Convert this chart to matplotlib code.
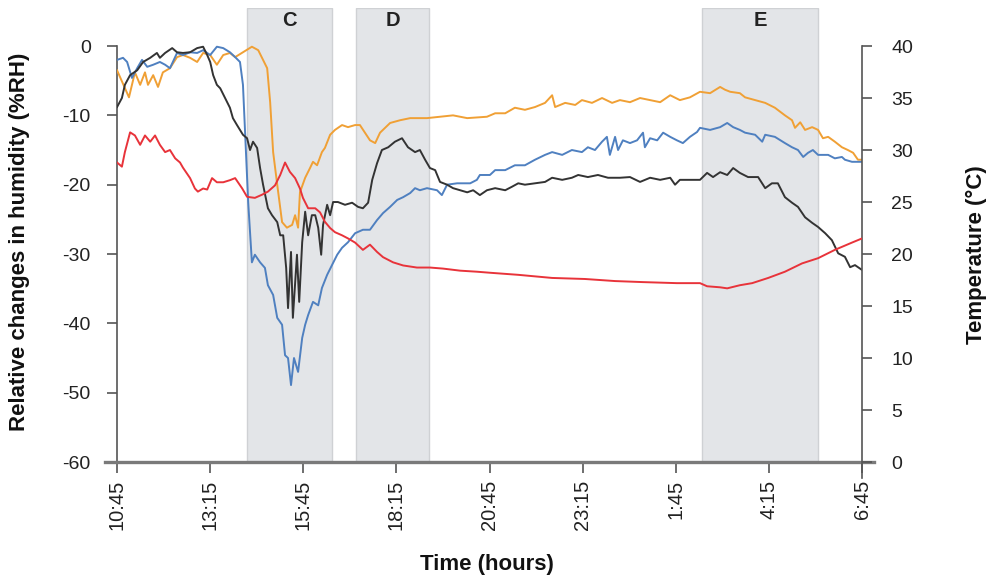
import matplotlib
matplotlib.use("Agg")
import matplotlib.pyplot as plt

plt.rcParams['font.family'] = ['Liberation Sans', 'DejaVu Sans']

# hours elapsed since 10:45
tick_hours = [0, 2.5, 5, 7.5, 10, 12.5, 15, 17.5, 20]
tick_labels = ['10:45', '13:15', '15:45', '18:15', '20:45', '23:15', '1:45', '4:15', '6:45']

# shaded periods (start, end, label)
periods = [(3.49, 5.77, 'C'), (6.42, 8.38, 'D'), (15.70, 18.82, 'E')]

# relative humidity change, orange sensor
orange_t = [0.00, 0.32, 0.48, 0.62, 0.75, 0.83, 0.97, 1.10, 1.23, 1.42, 1.61, 1.77, 1.96, 2.15,
            2.31, 2.50, 2.68, 2.85, 3.03, 3.17, 3.62, 3.79, 4.03, 4.11, 4.19, 4.30, 4.43, 4.56,
            4.70, 4.78, 4.86, 4.91, 5.05, 5.18, 5.26, 5.37, 5.50, 5.58, 5.72, 5.85, 6.04, 6.20,
            6.39, 6.52, 6.79, 6.93, 7.06, 7.33, 7.60, 7.87, 8.32, 8.67, 9.02, 9.40, 9.93, 10.15,
            10.42, 10.68, 10.95, 11.22, 11.49, 11.68, 11.76, 12.03, 12.30, 12.48, 12.75, 13.02,
            13.29, 13.50, 13.77, 14.04, 14.31, 14.58, 14.85, 15.11, 15.38, 15.65, 15.92, 16.19,
            16.32, 16.46, 16.72, 16.86, 17.13, 17.40, 17.66, 17.93, 18.12, 18.20, 18.34, 18.47,
            18.66, 18.82, 18.95, 19.09, 19.27, 19.46, 19.62, 19.76, 19.89, 20.00]
orange_rh = [-3.5, -7.4, -3.8, -5.6, -3.8, -5.6, -4.2, -5.9, -3.8, -3.2, -1.6, -1.3, -1.7, -2.3,
             -1.0, -1.3, -2.7, -1.3, -1.0, -1.6, -0.1, -0.6, -3.2, -8.1, -15.3, -20.0, -25.4, -26.2,
             -25.8, -24.4, -26.2, -21.1, -19.0, -17.6, -16.7, -17.2, -15.3, -14.7, -12.8, -12.1, -11.4, -11.7,
             -11.4, -11.4, -13.6, -14.0, -12.5, -11.1, -10.7, -10.4, -10.4, -10.2, -10.0, -10.4, -10.2, -9.7,
             -9.7, -8.9, -9.2, -8.8, -8.2, -7.1, -8.8, -8.2, -8.5, -7.8, -8.2, -7.5,
             -8.2, -7.8, -8.1, -7.5, -7.8, -8.1, -7.1, -7.8, -7.4, -6.6, -6.8, -5.9,
             -6.3, -6.6, -6.8, -7.4, -7.8, -8.2, -8.9, -10.0, -10.7, -11.8, -11.0, -12.1,
             -11.7, -12.1, -13.3, -13.1, -13.8, -14.6, -15.0, -15.4, -16.4, -16.4]

# relative humidity change, blue sensor
blue_t = [0.00, 0.16, 0.27, 0.40, 0.54, 0.67, 0.81, 0.97, 1.15, 1.29, 1.42, 1.61, 1.77, 1.96,
          2.15, 2.31, 2.50, 2.68, 2.85, 3.03, 3.17, 3.30, 3.38, 3.44, 3.52, 3.62, 3.70, 3.84,
          3.97, 4.05, 4.19, 4.30, 4.43, 4.51, 4.59, 4.67, 4.75, 4.86, 4.97, 5.05, 5.13, 5.26,
          5.40, 5.50, 5.64, 5.77, 5.91, 6.04, 6.20, 6.39, 6.60, 6.79, 6.98, 7.14, 7.33, 7.52,
          7.68, 7.87, 8.00, 8.13, 8.32, 8.59, 8.72, 8.86, 9.13, 9.48, 9.66, 9.74, 10.01, 10.15,
          10.42, 10.68, 10.95, 11.22, 11.49, 11.68, 11.95, 12.21, 12.48, 12.64, 12.83, 13.02,
          13.15, 13.23, 13.37, 13.45, 13.58, 13.77, 13.96, 14.12, 14.17, 14.31, 14.50, 14.66,
          14.85, 15.03, 15.19, 15.38, 15.57, 15.65, 15.92, 16.19, 16.38, 16.54, 16.72, 16.86,
          17.13, 17.32, 17.40, 17.66, 17.93, 18.12, 18.28, 18.42, 18.55, 18.68, 18.82, 19.09,
          19.27, 19.46, 19.54, 19.73, 20.00]
blue_rh = [-2.0, -1.7, -2.3, -4.6, -3.2, -2.0, -3.0, -2.7, -2.3, -2.7, -3.2, -1.0, -1.3, -0.9,
           -1.0, -0.6, -1.3, -0.1, -0.3, -0.9, -1.6, -2.3, -5.6, -12.8, -22.5, -31.2, -30.1, -31.2,
           -32.0, -34.5, -35.9, -39.2, -40.2, -44.6, -45.0, -48.9, -45.0, -47.0, -42.1, -40.2, -38.8, -36.9,
           -37.4, -34.9, -33.0, -31.6, -30.1, -29.1, -28.3, -27.0, -26.5, -26.5, -25.1, -24.1, -23.2, -22.2,
           -21.8, -21.2, -20.5, -20.8, -20.5, -20.8, -21.5, -20.0, -19.8, -19.8, -19.3, -18.6, -18.6, -17.9,
           -17.9, -17.2, -17.2, -16.4, -15.7, -15.3, -15.7, -15.0, -15.3, -14.6, -15.0, -13.8,
           -13.1, -15.7, -13.1, -15.0, -13.6, -14.0, -13.6, -12.5, -14.6, -13.3, -13.6, -12.5,
           -13.1, -13.6, -14.0, -13.1, -12.4, -11.8, -12.1, -11.7, -11.1, -11.7, -12.1, -12.5,
           -12.8, -13.8, -12.8, -13.1, -14.0, -14.6, -15.0, -16.0, -15.4, -15.0, -15.7, -15.7,
           -16.2, -16.0, -16.4, -16.7, -16.7]

# relative humidity change, black sensor
black_t = [0.00, 0.13, 0.21, 0.35, 0.54, 0.70, 0.89, 1.07, 1.15, 1.29, 1.48, 1.61, 1.77, 1.96,
           2.15, 2.31, 2.42, 2.50, 2.58, 2.68, 2.77, 2.90, 3.03, 3.11, 3.22, 3.38, 3.49, 3.57,
           3.65, 3.76, 3.84, 3.92, 4.05, 4.16, 4.30, 4.38, 4.46, 4.54, 4.59, 4.67, 4.72, 4.83,
           4.89, 4.97, 5.05, 5.13, 5.23, 5.32, 5.40, 5.48, 5.53, 5.64, 5.72, 5.80, 5.93, 6.12,
           6.31, 6.47, 6.60, 6.74, 6.85, 6.98, 7.11, 7.28, 7.46, 7.65, 7.81, 8.00, 8.13, 8.27,
           8.40, 8.54, 8.67, 8.86, 9.02, 9.21, 9.40, 9.56, 9.74, 9.93, 10.15, 10.42, 10.60, 10.77,
           10.95, 11.22, 11.49, 11.68, 11.95, 12.21, 12.38, 12.64, 12.91, 13.18, 13.50, 13.77,
           14.04, 14.31, 14.58, 14.85, 14.98, 15.11, 15.38, 15.65, 15.84, 16.00, 16.19, 16.38,
           16.54, 16.72, 16.94, 17.21, 17.40, 17.58, 17.74, 17.93, 18.12, 18.28, 18.47, 18.66,
           18.82, 19.01, 19.19, 19.36, 19.54, 19.68, 19.81, 20.00]
black_rh = [-8.8, -7.5, -5.6, -4.2, -3.5, -2.3, -1.7, -1.0, -1.7, -1.0, -0.3, -0.9, -1.0, -0.9,
            -0.3, -0.1, -1.3, -2.3, -4.2, -5.6, -6.1, -7.5, -8.9, -10.4, -11.4, -12.8, -13.3, -15.0,
            -13.8, -14.7, -17.6, -20.0, -23.4, -24.4, -25.4, -27.3, -27.3, -32.0, -37.8, -29.7, -39.2, -30.1,
            -36.9, -28.3, -23.9, -27.3, -24.4, -24.4, -26.2, -30.1, -25.8, -22.9, -24.4, -22.5, -22.5, -22.9,
            -22.6, -23.2, -23.4, -22.6, -19.3, -16.9, -15.0, -14.6, -13.8, -13.3, -14.6, -15.3, -15.0, -16.4,
            -17.6, -17.9, -19.6, -20.0, -20.5, -20.8, -21.1, -20.8, -21.5, -20.8, -20.5, -20.8, -20.3, -19.8,
            -20.0, -19.8, -19.6, -19.0, -19.3, -19.0, -18.6, -18.9, -18.6, -19.0, -19.0, -18.9,
            -19.6, -19.0, -19.3, -19.0, -20.0, -19.3, -19.3, -19.3, -18.3, -18.9, -18.2, -18.6,
            -17.6, -18.3, -18.9, -18.9, -20.5, -19.8, -19.8, -21.8, -22.6, -23.2, -24.7, -25.5,
            -26.1, -27.0, -28.0, -29.9, -30.4, -31.9, -31.6, -32.3]

# temperature (right axis)
temp_t = [0.00, 0.13, 0.21, 0.35, 0.48, 0.62, 0.75, 0.89, 1.02, 1.15, 1.29, 1.42, 1.56, 1.69,
          1.77, 1.96, 2.09, 2.17, 2.31, 2.42, 2.55, 2.68, 2.85, 3.03, 3.17, 3.36, 3.49, 3.70,
          3.89, 4.05, 4.24, 4.38, 4.51, 4.64, 4.78, 4.91, 4.99, 5.13, 5.32, 5.45, 5.58, 5.72,
          5.85, 6.04, 6.20, 6.39, 6.60, 6.79, 6.98, 7.14, 7.41, 7.68, 8.05, 8.40, 8.75, 9.21,
          9.66, 10.01, 10.77, 11.68, 12.56, 13.37, 14.12, 15.03, 15.65, 15.84, 16.19, 16.38,
          16.72, 17.05, 17.48, 17.93, 18.39, 18.82, 19.27, 19.73, 20.00]
temp_c = [28.8, 28.4, 29.8, 31.7, 31.4, 30.5, 31.4, 30.8, 31.4, 30.5, 29.8, 30.0, 29.2, 28.8,
          28.3, 27.3, 26.3, 26.0, 26.3, 26.2, 27.3, 26.9, 26.9, 27.1, 27.3, 26.3, 25.5, 25.4,
          25.7, 26.0, 26.6, 27.6, 28.8, 27.9, 27.3, 26.3, 25.4, 24.4, 24.4, 24.0, 23.1, 22.5,
          22.1, 21.8, 21.5, 21.1, 20.4, 20.9, 20.2, 19.7, 19.2, 18.9, 18.7, 18.7, 18.6, 18.4,
          18.3, 18.2, 18.0, 17.7, 17.6, 17.4, 17.3, 17.2, 17.2, 16.9, 16.8, 16.7,
          17.0, 17.2, 17.7, 18.3, 19.1, 19.6, 20.4, 21.1, 21.5]

fig = plt.figure(figsize=(9.92, 5.80), dpi=100)
ax = fig.add_axes([0.118, 0.2034, 0.751, 0.783])
ax2 = ax.twinx()

rh_top = 5.5
ax.set_xlim(0, 20)
ax.set_ylim(-60, rh_top)
ax2.set_ylim(0, rh_top * 40 / 60 + 40)

for start, end, name in periods:
    ax.axvspan(start, end, facecolor='#e3e5e8', edgecolor='#cfd1d4', linewidth=1.0, zorder=0)
    ax.text((start + end) / 2, 3.7, name, ha='center', va='center',
            fontsize=14.5, fontweight='bold', color='#222222')

lw = 1.4
ax.plot(orange_t, orange_rh, color='#f0a035', lw=lw, zorder=3)
ax.plot(blue_t, blue_rh, color='#4f80c0', lw=lw, zorder=3)
ax.plot(black_t, black_rh, color='#333333', lw=lw, zorder=4)
ax2.plot(temp_t, temp_c, color='#e8333a', lw=lw, zorder=3)

# axes styling
for a in (ax, ax2):
    a.spines['top'].set_visible(False)
    a.spines['bottom'].set_visible(False)
    a.patch.set_visible(False)
ax.spines['right'].set_visible(False)
ax2.spines['left'].set_visible(False)
ax.spines['left'].set_bounds(-60, 0)
ax.spines['left'].set_color('#555555')
ax.spines['left'].set_linewidth(1.2)
ax2.spines['right'].set_bounds(-1.5, 40)
ax2.spines['right'].set_color('#555555')
ax2.spines['right'].set_linewidth(1.2)

# extended grey baseline
ax.plot([-0.016, 1.016], [0, 0], transform=ax.transAxes, color='#7a7a7a',
        lw=2.4, clip_on=False, zorder=5)

ax.set_yticks(range(-60, 1, 10))
ax.set_yticklabels([str(v) for v in range(-60, 1, 10)])
ax.tick_params(axis='y', length=7, width=1.2, color='#555555', pad=12,
               labelsize=14, labelcolor='#222222')
ax2.set_yticks(range(0, 41, 5))
ax2.tick_params(axis='y', length=7, width=1.2, color='#555555', pad=14,
                labelsize=14, labelcolor='#222222')

ax.set_xticks(tick_hours)
ax.set_xticklabels(tick_labels, rotation=90)
ax.tick_params(axis='x', length=8, width=1.2, color='#555555', pad=5,
               labelsize=14.5, labelcolor='#222222')

ax.set_ylabel('Relative changes in humidity (%RH)', fontsize=16, fontweight='bold', color='#111111')
ax.yaxis.set_label_coords(-0.117, 0.485)
ax2.set_ylabel('Temperature (°C)', fontsize=16, fontweight='bold', color='#111111', rotation=90)
ax2.yaxis.set_label_coords(1.139, 0.456)
ax.set_xlabel('Time (hours)', fontsize=16, fontweight='bold', color='#111111')
ax.xaxis.set_label_coords(0.497, -0.203)

fig.savefig('out.png', dpi=100)
